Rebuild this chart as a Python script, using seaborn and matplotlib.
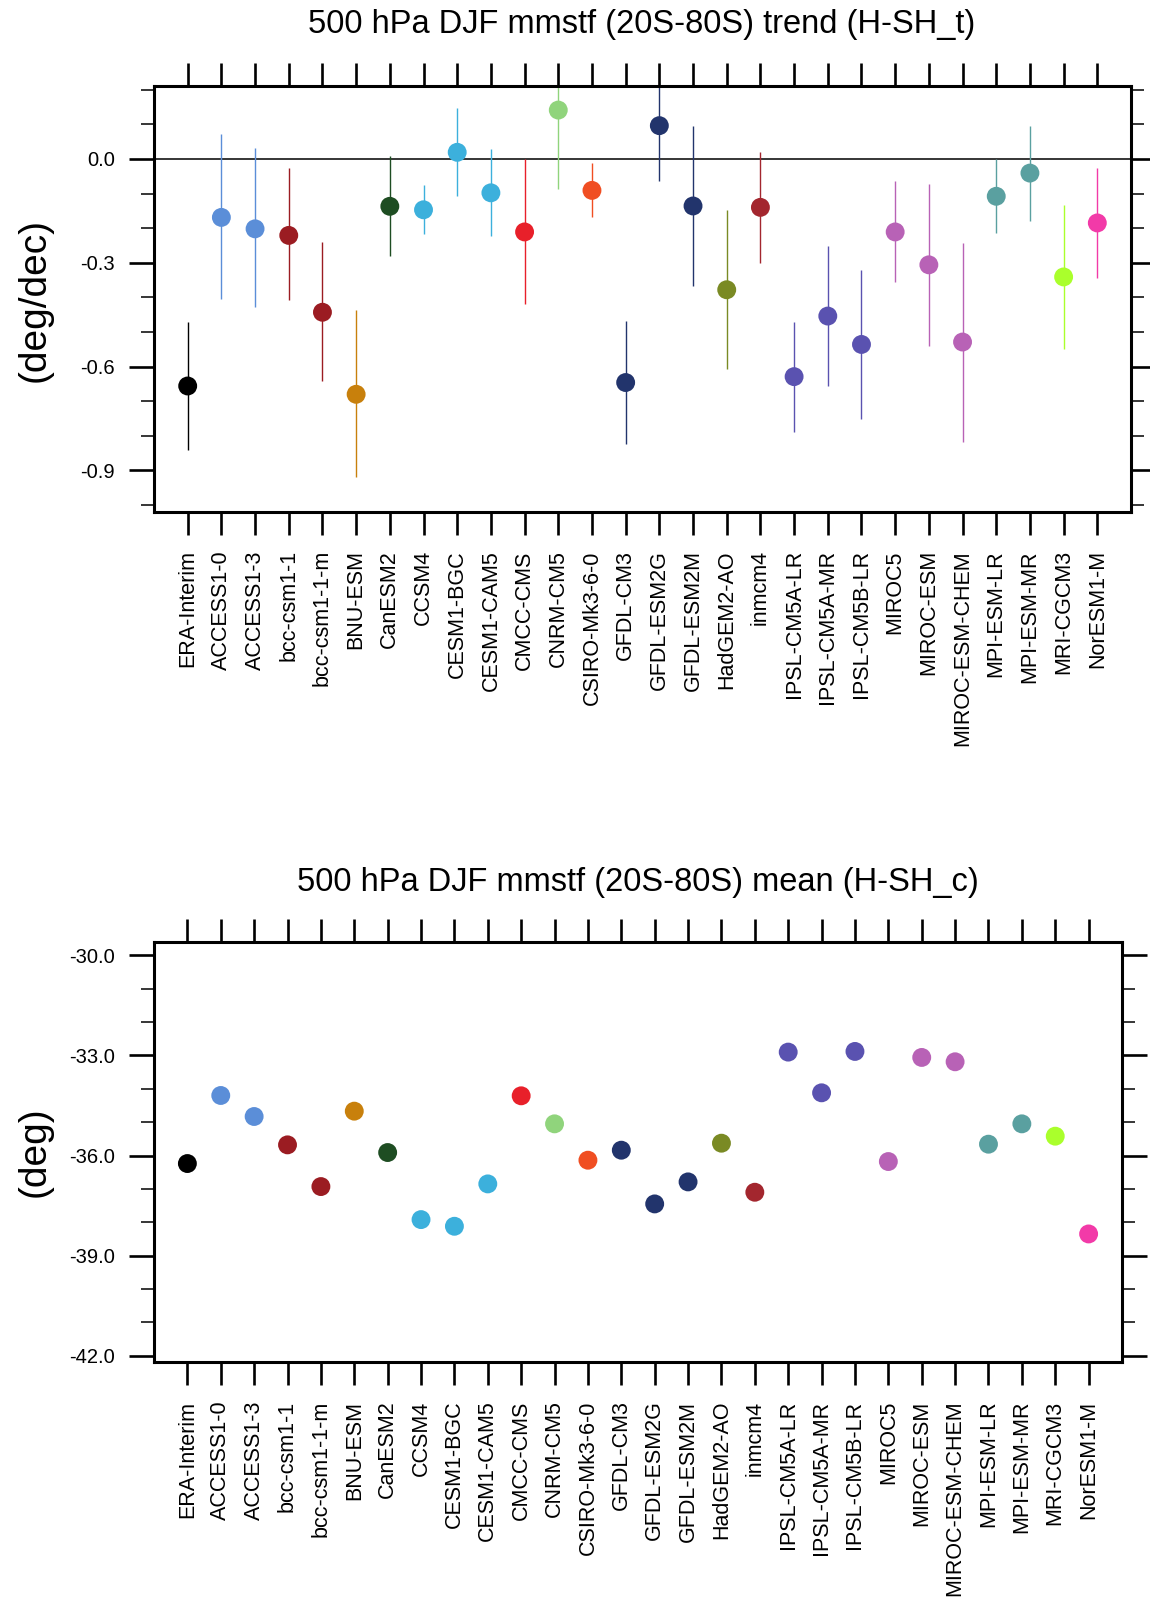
import matplotlib
matplotlib.use("Agg")
import matplotlib.pyplot as plt
import seaborn as sns
import numpy as np
import pandas as pd
from matplotlib.ticker import MultipleLocator, FixedLocator, FuncFormatter

models = ["ERA-Interim", "ACCESS1-0", "ACCESS1-3", "bcc-csm1-1", "bcc-csm1-1-m", "BNU-ESM",
          "CanESM2", "CCSM4", "CESM1-BGC", "CESM1-CAM5", "CMCC-CMS", "CNRM-CM5",
          "CSIRO-Mk3-6-0", "GFDL-CM3", "GFDL-ESM2G", "GFDL-ESM2M", "HadGEM2-AO", "inmcm4",
          "IPSL-CM5A-LR", "IPSL-CM5A-MR", "IPSL-CM5B-LR", "MIROC5", "MIROC-ESM",
          "MIROC-ESM-CHEM", "MPI-ESM-LR", "MPI-ESM-MR", "MRI-CGCM3", "NorESM1-M"]

colors = ["#000000", "#5b8ed8", "#5b8ed8", "#9b1c22", "#9b1c22", "#c8800c",
          "#1e4d22", "#3cb0dc", "#3cb0dc", "#3cb0dc", "#e8202a", "#90d47c",
          "#f04e22", "#22346c", "#22346c", "#22346c", "#7a8a24", "#a3262e",
          "#5a52b0", "#5a52b0", "#5a52b0", "#b862b6", "#b862b6",
          "#b862b6", "#5aa0a0", "#5aa0a0", "#aaff2c", "#f23aa8"]

trend = [-0.656, -0.169, -0.202, -0.221, -0.443, -0.680, -0.137, -0.147, 0.019, -0.098,
         -0.211, 0.141, -0.091, -0.646, 0.096, -0.136, -0.378, -0.140, -0.629, -0.454,
         -0.536, -0.211, -0.306, -0.529, -0.108, -0.041, -0.341, -0.185]
trend_hi = [-0.471, 0.071, 0.032, -0.026, -0.241, -0.437, 0.008, -0.074, 0.146, 0.028,
            0.000, 0.207, -0.011, -0.468, 0.260, 0.096, -0.147, 0.019, -0.470, -0.251,
            -0.322, -0.065, -0.073, -0.242, 0.000, 0.096, -0.132, -0.027]
trend_lo = [-0.841, -0.406, -0.429, -0.409, -0.643, -0.919, -0.281, -0.217, -0.107, -0.224,
            -0.419, -0.088, -0.169, -0.824, -0.065, -0.368, -0.607, -0.300, -0.788, -0.656,
            -0.750, -0.355, -0.541, -0.817, -0.214, -0.178, -0.549, -0.343]

mean = [-36.24, -34.20, -34.83, -35.68, -36.93, -34.67, -35.91, -37.92, -38.12, -36.85,
        -34.21, -35.05, -36.14, -35.84, -37.45, -36.79, -35.63, -37.10, -32.90, -34.12,
        -32.88, -36.18, -33.06, -33.19, -35.66, -35.05, -35.42, -38.35]

title_top = "500 hPa DJF mmstf (20S-80S) trend (H-SH_t)"
title_bot = "500 hPa DJF mmstf (20S-80S) mean (H-SH_c)"
ylabel_top = "(deg/dec)"
ylabel_bot = "(deg)"

sns.set_theme(style="white")
plt.rcParams['font.family'] = ['Liberation Sans', 'DejaVu Sans']

W, H = 1150, 1602
fig = plt.figure(figsize=(W / 100, H / 100), dpi=100)

idx = np.arange(len(models))
df = pd.DataFrame({"x": idx, "model": models, "trend": trend, "lo": trend_lo,
                   "hi": trend_hi, "mean": mean})
pal = dict(zip(models, colors))


def fmt(v, pos):
    s = "%.1f" % v
    if s == "-0.0":
        s = "0.0"
    return s


def style_axes(ax, ymajor, yminor, ylim):
    ax.set_xlim(-1, len(models))
    ax.set_ylim(*ylim)
    ax.xaxis.set_major_locator(FixedLocator(idx))
    ax.set_xticks(idx)
    ax.set_xticklabels(models, rotation=90)
    ax.yaxis.set_major_locator(MultipleLocator(ymajor))
    ax.yaxis.set_minor_locator(MultipleLocator(yminor))
    ax.yaxis.set_major_formatter(FuncFormatter(fmt))
    ax.tick_params(axis='x', which='major', direction='out', length=16.5, width=1.9,
                   top=True, bottom=True, labeltop=False, labelbottom=True,
                   labelsize=15.5, pad=11, color='black', labelcolor='black')
    ax.tick_params(axis='y', which='major', direction='out', length=18, width=1.9,
                   left=True, right=True, labelright=False, labelsize=14.5, pad=10,
                   color='black', labelcolor='black')
    ax.tick_params(axis='y', which='minor', direction='out', length=9.5, width=1.1,
                   left=True, right=True, color='black')
    for sp in ax.spines.values():
        sp.set_visible(True)
        sp.set_linewidth(2.2)
        sp.set_color('black')
    ax.set_xlabel("")
    ax.set_ylabel("")
    ax.grid(False)
    ax.set_facecolor('white')


# top panel
ax1 = fig.add_axes([154 / W, 1 - 512 / H, 977 / W, 426.5 / H])
ax1.axhline(0.0, color='black', lw=1.1, zorder=1)
ax1.vlines(df["x"], df["lo"], df["hi"], colors=colors, lw=1.0, zorder=2)
sns.scatterplot(data=df, x="x", y="trend", hue="model", palette=pal, s=185,
                linewidth=0, legend=False, ax=ax1, zorder=3)
style_axes(ax1, 0.3, 0.1, (-1.02, 0.212))

# bottom panel
ax2 = fig.add_axes([154 / W, 1 - 1362.4 / H, 968 / W, 420.4 / H])
sns.scatterplot(data=df, x="x", y="mean", hue="model", palette=pal, s=185,
                linewidth=0, legend=False, ax=ax2, zorder=3)
style_axes(ax2, 3.0, 1.0, (-42.2, -29.6))

fig.text(642 / W, 1 - 25 / H, title_top, ha='center', va='center', fontsize=23.5, color='black')
fig.text(638 / W, 1 - 883 / H, title_bot, ha='center', va='center', fontsize=23.5, color='black')
fig.text(35 / W, 1 - 300 / H, ylabel_top, ha='center', va='center', rotation=90, fontsize=28, color='black')
fig.text(35 / W, 1 - 1152 / H, ylabel_bot, ha='center', va='center', rotation=90, fontsize=28, color='black')

fig.savefig("out.png", dpi=100, facecolor='white')
